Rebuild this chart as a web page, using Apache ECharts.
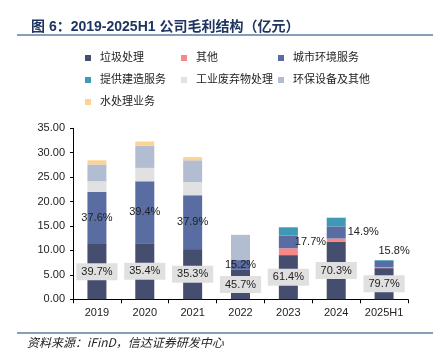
<!DOCTYPE html>
<html><head><meta charset="utf-8">
<script src="https://cdn.jsdelivr.net/npm/echarts@6/dist/echarts.min.js"></script>
<style>html,body{margin:0;padding:0;background:#fff}#c{width:445px;height:360px}</style>
</head><body><div id="c"></div>
<script>
const categories = ['2019','2020','2021','2022','2023','2024','2025H1'];
const garbage      = [11.30, 11.45, 10.27, 6.03, 9.04, 11.74, 6.38];
const other        = [0, 0, 0, 0, 1.40, 0.70, 0.20];
const urban        = [10.70, 12.70, 11.03, 2.00, 2.60, 2.49, 1.26];
const construction = [0, 0, 0, 0, 1.70, 1.77, 0.16];
const industrial   = [2.15, 2.75, 2.70, 0, 0, 0, 0];
const equipment    = [3.45, 4.55, 4.45, 5.17, 0, 0, 0];
const water        = [0.85, 0.85, 0.65, 0, 0, 0, 0];
const garbagePct = ['39.7%','35.4%','35.3%','45.7%','61.4%','70.3%','79.7%'];
const urbanPct   = ['37.6%','39.4%','37.9%','15.2%','17.7%','14.9%','15.8%'];
const yTicks = [0,5,10,15,20,25,30,35];

const FONT = 'Liberation Sans, Arial, Noto Sans CJK SC, sans-serif';
const chart = echarts.init(document.getElementById('c'));

function mk(name, arr, color, extra) {
  return Object.assign({
    name, type:'bar', stack:'t', barWidth: 19,
    itemStyle:{color},
    data: arr.map(v => v ? v : '-')
  }, extra || {});
}

const urbanLabelCfg = [
  {position:'inside'},{position:'inside'},{position:'inside'},{position:'inside'},
  {position:'right', offset:[-8,0]},
  {position:'right', distance:2},
  {position:'top', offset:[10,0]}
];

const series = [
  mk('垃圾处理', garbage, '#454e6e', {
    label:{show:true, position:'inside', fontSize:11, fontFamily:FONT, color:'#222',
      backgroundColor:'#e0e0e0', padding:[3,5],
      formatter: p => garbagePct[p.dataIndex]}
  }),
  mk('其他', other, '#f98787'),
  Object.assign(mk('城市环境服务', urban, '#5a6da2'), {
    data: urban.map((v,i)=>({value: v, label: Object.assign({show:true, fontSize:11, fontFamily:FONT, color:'#222', formatter: () => urbanPct[i]}, urbanLabelCfg[i])}))
  }),
  mk('提供建造服务', construction, '#3f98b4'),
  mk('工业废弃物处理', industrial, '#e1e1e1'),
  mk('环保设备及其他', equipment, '#b3bdd2'),
  mk('水处理业务', water, '#fdd394')
];

const legendBase = {
  orient:'vertical', itemWidth:6, itemHeight:6, icon:'rect', itemGap:8, padding:0, top:51,
  textStyle:{fontSize:11, fontFamily:FONT, color:'#222', lineHeight:14, padding:[0,0,0,4]},
  selectedMode:false
};

chart.setOption({
  animation:false,
  textStyle:{fontFamily:FONT},
  title:{
    text:'图 6：2019-2025H1 公司毛利结构（亿元）', left:26, top:15,
    textStyle:{fontSize:14, fontWeight:'bold', color:'#1f3560', fontFamily:FONT}
  },
  legend:[
    Object.assign({}, legendBase, {left:85, data:['垃圾处理','提供建造服务','水处理业务']}),
    Object.assign({}, legendBase, {left:181, data:['其他','工业废弃物处理']}),
    Object.assign({}, legendBase, {left:278, data:['城市环境服务','环保设备及其他']})
  ],
  grid:{left:73, right:37, top:128.3, bottom:60.7, containLabel:false},
  xAxis:{
    type:'category', data:categories,
    axisLine:{lineStyle:{color:'#000', width:1}},
    axisTick:{show:true, length:4, interval:0, lineStyle:{color:'#000'}},
    axisLabel:{fontSize:11, color:'#222', margin:8, interval:0, hideOverlap:false, fontFamily:FONT}
  },
  yAxis:{
    type:'value', min:yTicks[0], max:yTicks[yTicks.length-1], interval:5,
    splitLine:{show:false},
    axisLine:{show:true, lineStyle:{color:'#000', width:1}},
    axisTick:{show:true, length:3, lineStyle:{color:'#000'}},
    axisLabel:{fontSize:11, color:'#222', margin:8, fontFamily:FONT, formatter: v => v.toFixed(2)}
  },
  graphic:[
    {type:'line', shape:{x1:17, y1:35, x2:433, y2:35}, style:{stroke:'#5b7ea6', lineWidth:1.5}},
    {type:'line', shape:{x1:17, y1:333, x2:433, y2:333}, style:{stroke:'#5b7ea6', lineWidth:1.5}},
    {type:'text', left:27, top:336, style:{text:'资料来源：iFinD，信达证券研发中心', fontSize:12, fontStyle:'italic', fill:'#222', fontFamily:'Noto Sans CJK SC, sans-serif'}}
  ],
  series
});
</script></body></html>
